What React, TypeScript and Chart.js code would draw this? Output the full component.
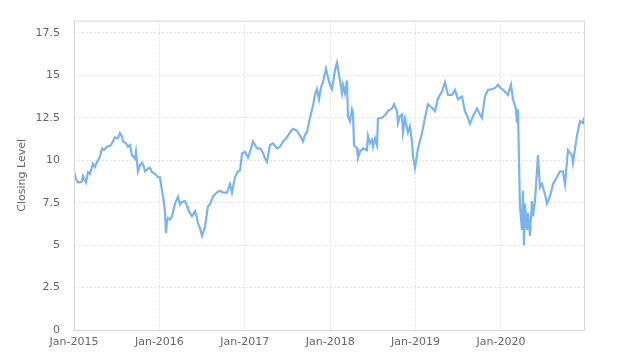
import React, { useEffect, useRef } from "react";
import { Chart, registerables } from "chart.js";

Chart.register(...registerables);

// months elapsed since Jan-2015
const months = [
  0, 0.28, 0.56, 0.84, 1.12, 1.26, 1.69, 1.97, 2.25, 2.67, 2.95, 3.23, 3.65, 3.93, 4.22, 4.64, 5.06, 5.34, 5.76, 6.18,
  6.46, 6.74, 6.89, 7.31, 7.59, 7.87, 8.15, 8.57, 8.71, 8.99, 9.27, 9.56, 9.84, 9.98, 10.4, 10.68, 10.96, 11.38, 11.8, 12.08,
  12.37, 12.65, 12.79, 12.93, 13.07, 13.21, 13.49, 13.77, 14.19, 14.61, 14.9, 15.18, 15.6, 15.88, 16.02, 16.3, 16.58, 17.0, 17.28, 17.42,
  17.71, 17.99, 18.27, 18.41, 18.83, 19.11, 19.53, 19.81, 20.23, 20.52, 20.94, 21.5, 21.92, 22.2, 22.62, 23.05, 23.33, 23.61, 24.03, 24.45,
  24.73, 25.15, 25.43, 25.72, 26.14, 26.56, 26.84, 27.12, 27.54, 27.96, 28.53, 28.95, 29.37, 29.93, 30.35, 30.77, 31.34, 31.76, 32.18, 32.46,
  32.74, 33.16, 33.58, 33.87, 34.15, 34.43, 34.71, 34.99, 35.41, 35.69, 35.97, 36.25, 36.68, 36.96, 37.38, 37.66, 37.8, 38.08, 38.36, 38.5,
  38.78, 39.06, 39.21, 39.35, 39.77, 39.91, 40.19, 40.61, 41.17, 41.31, 41.59, 41.87, 42.02, 42.3, 42.58, 42.72, 43.28, 43.7, 44.12, 44.69,
  44.97, 45.39, 45.53, 45.81, 46.09, 46.23, 46.51, 46.93, 47.21, 47.5, 47.64, 47.92, 48.34, 48.9, 49.32, 49.74, 50.31, 50.73, 51.15, 51.71,
  52.13, 52.56, 53.12, 53.54, 53.96, 54.52, 54.94, 55.36, 55.65, 56.07, 56.63, 57.05, 57.33, 57.75, 58.18, 58.74, 59.16, 59.58, 59.86, 60.14,
  60.56, 60.98, 61.41, 61.69, 62.11, 62.25, 62.39, 62.53, 62.67, 62.95, 63.09, 63.23, 63.37, 63.65, 63.8, 64.08, 64.36, 64.5, 64.78, 65.06,
  65.2, 65.48, 65.76, 66.19, 66.47, 66.89, 67.31, 67.87, 68.29, 68.71, 69.0, 69.42, 69.98, 70.12, 70.68, 71.1, 71.53, 71.67,
];

const closing = [
  9.35, 8.9, 8.7, 8.7, 8.75, 9.06, 8.7, 9.3, 9.2, 9.8, 9.6, 9.9, 10.2, 10.7, 10.6, 10.8, 10.85, 11.0, 11.35, 11.3,
  11.6, 11.4, 11.1, 11.0, 10.8, 10.9, 10.3, 10.1, 10.5, 9.35, 9.7, 9.85, 9.6, 9.35, 9.5, 9.55, 9.3, 9.2, 9.0, 9.0,
  8.2, 7.5, 6.9, 5.7, 6.4, 6.6, 6.5, 6.7, 7.45, 7.85, 7.4, 7.55, 7.6, 7.3, 7.15, 6.9, 6.7, 7.0, 6.6, 6.3,
  6.0, 5.55, 5.9, 6.1, 7.3, 7.4, 7.85, 8.0, 8.15, 8.2, 8.1, 8.1, 8.6, 8.1, 9.0, 9.35, 9.4, 10.4, 10.5, 10.15,
  10.5, 11.1, 10.9, 10.7, 10.7, 10.45, 10.1, 9.9, 10.9, 11.0, 10.7, 10.8, 11.1, 11.35, 11.65, 11.85, 11.75, 11.45, 11.1, 11.5,
  11.65, 12.5, 13.2, 13.9, 14.2, 13.6, 14.3, 14.6, 15.4, 14.9, 14.45, 14.2, 15.3, 15.75, 14.7, 13.95, 14.45, 13.95, 14.7, 12.6,
  12.3, 13.0, 12.8, 10.9, 10.7, 10.15, 10.5, 10.7, 10.6, 11.45, 11.0, 11.2, 10.8, 11.3, 10.9, 12.45, 12.5, 12.65, 12.9, 13.05,
  13.3, 12.9, 12.2, 12.6, 12.7, 11.65, 12.45, 11.65, 12.0, 11.1, 10.2, 9.55, 10.7, 11.6, 12.5, 13.3, 13.1, 12.9, 13.65, 14.05,
  14.6, 13.85, 13.85, 14.15, 13.6, 13.75, 12.9, 12.5, 12.15, 12.6, 13.05, 12.7, 12.5, 13.75, 14.15, 14.2, 14.25, 14.45, 14.3, 14.2,
  14.05, 13.85, 14.45, 13.6, 13.0, 12.2, 13.0, 10.15, 7.3, 5.9, 8.2, 5.0, 7.45, 5.9, 6.9, 5.55, 7.6, 6.7, 7.6, 9.35,
  10.3, 8.4, 8.6, 8.0, 7.45, 7.85, 8.6, 9.0, 9.35, 9.35, 8.6, 10.6, 10.3, 9.85, 11.45, 12.3, 12.2, 12.5,
];

const tickYears = ["Jan-2015", "Jan-2016", "Jan-2017", "Jan-2018", "Jan-2019", "Jan-2020"];
const yTicks = [0, 2.5, 5, 7.5, 10, 12.5, 15, 17.5];

const FONT = "'DejaVu Sans', sans-serif";
const TICK_COLOR = "#666666";
const GRID_COLOR = "#e3e3e3";

const borderPlugin = {
  id: "plotBorder",
  afterDraw(chart: any) {
    const { ctx, chartArea } = chart;
    ctx.save();
    ctx.strokeStyle = "#d8d8d8";
    ctx.lineWidth = 1;
    ctx.setLineDash([]);
    ctx.strokeRect(chartArea.left + 0.5, chartArea.top + 0.5, chartArea.right - chartArea.left, chartArea.bottom - chartArea.top);
    ctx.restore();
  },
};

export default function App() {
  const ref = useRef<HTMLCanvasElement | null>(null);

  useEffect(() => {
    if (!ref.current) return;
    const points = months.map((m, i) => ({ x: m, y: closing[i] }));
    const chart = new Chart(ref.current, {
      type: "line",
      data: {
        datasets: [
          {
            label: "Closing Level",
            data: points,
            borderColor: "rgb(122,180,236)",
            backgroundColor: "rgb(122,180,236)",
            borderWidth: 2.2,
            pointRadius: 0,
            tension: 0,
            fill: false,
          },
        ],
      },
      options: {
        animation: false,
        responsive: false,
        maintainAspectRatio: false,
        layout: { padding: { top: 12, right: 40, left: 0, bottom: 0 } },
        plugins: { legend: { display: false }, tooltip: { enabled: false } },
        scales: {
          x: {
            type: "linear",
            min: 0,
            max: 71.67,
            afterFit: (s: any) => {
              s.height = 33;
            },
            afterBuildTicks: (s: any) => {
              s.ticks = tickYears.map((_, i) => ({ value: i * 12 }));
            },
            ticks: {
              autoSkip: false,
              maxRotation: 0,
              padding: 6,
              color: TICK_COLOR,
              font: { family: FONT, size: 11 },
              callback: (v: any) => tickYears[Math.round(Number(v) / 12)] ?? "",
            },
            grid: { color: GRID_COLOR, drawTicks: false, tickBorderDash: [2, 2] },
            border: { display: false, dash: [2, 2] },
          },
          y: {
            type: "linear",
            min: 0,
            max: 18.23,
            afterFit: (s: any) => {
              s.width = 74;
            },
            afterBuildTicks: (s: any) => {
              s.ticks = yTicks.map((v) => ({ value: v }));
            },
            title: {
              display: true,
              text: "Closing Level",
              color: TICK_COLOR,
              font: { family: FONT, size: 11 },
              padding: { top: 16, bottom: 0 },
            },
            ticks: {
              padding: 14,
              color: TICK_COLOR,
              font: { family: FONT, size: 11 },
              callback: (v: any) => String(v),
            },
            grid: { color: GRID_COLOR, drawTicks: false },
            border: { display: false, dash: [2, 2] },
          },
        },
      },
      plugins: [borderPlugin],
    });
    return () => chart.destroy();
  }, []);

  return (
    <div style={{ position: "fixed", left: 0, top: 0, width: 624, height: 363, background: "#fff" }}>
      <canvas ref={ref} width={624} height={363} style={{ width: 624, height: 363, display: "block" }} />
    </div>
  );
}
